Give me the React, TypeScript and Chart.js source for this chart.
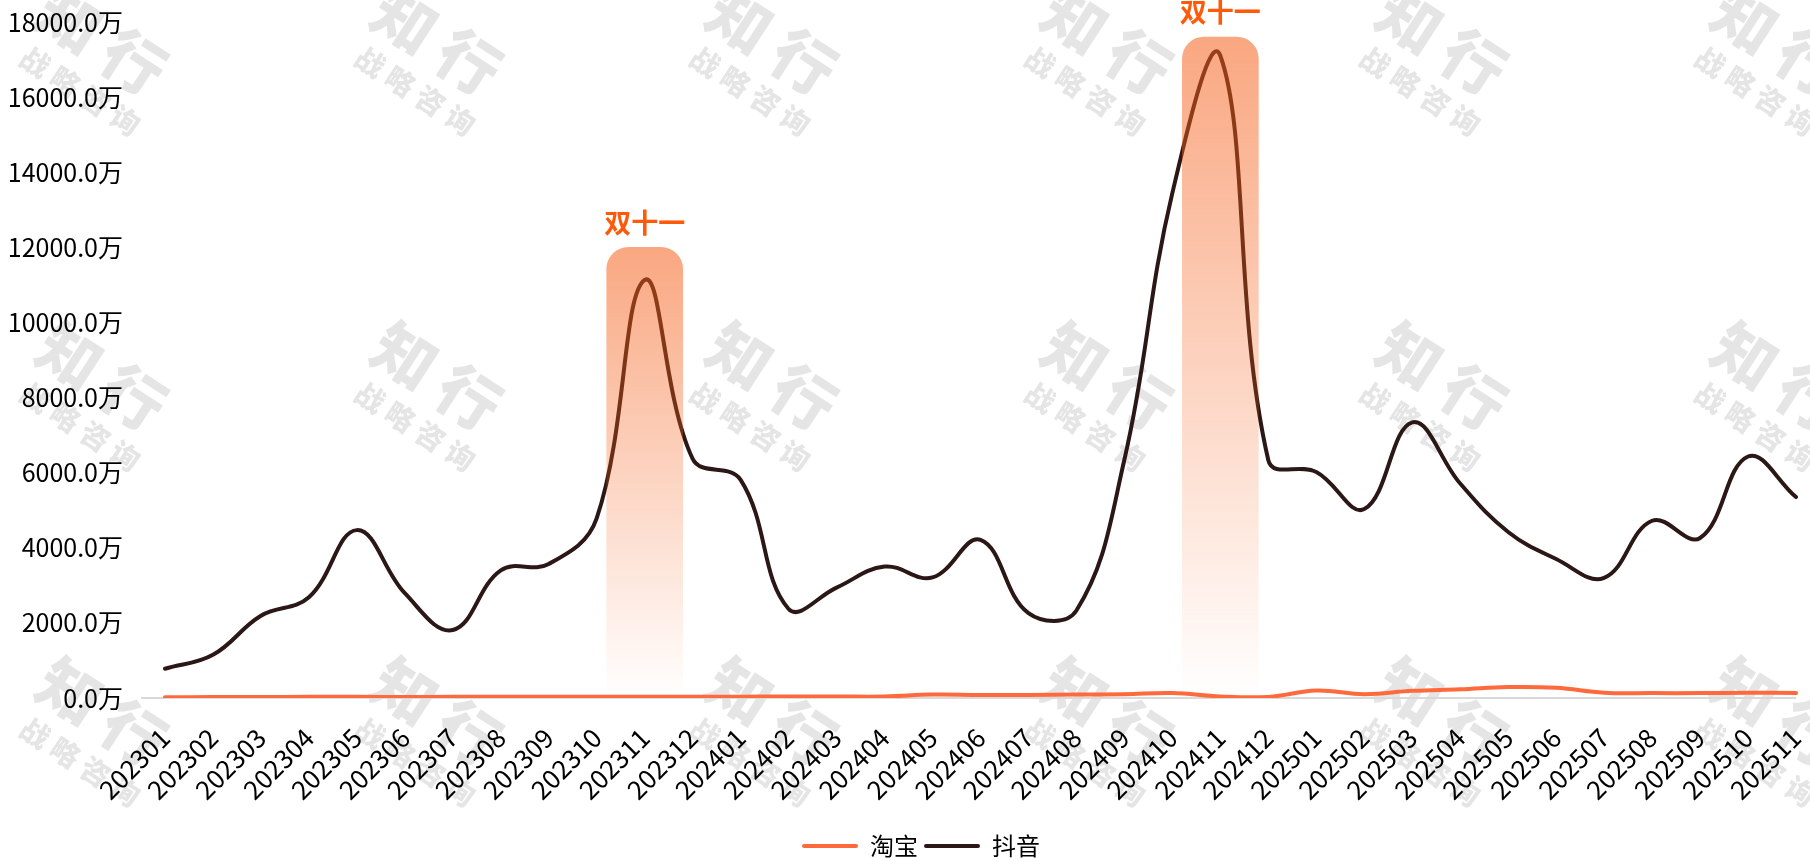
import React, { useEffect, useRef } from 'react';
import { Chart, registerables } from 'chart.js';

Chart.register(...registerables);

const FONT = '"Noto Sans CJK SC", "Noto Sans", sans-serif';

const categories = [
  '202301', '202302', '202303', '202304', '202305', '202306', '202307', '202308', '202309', '202310', '202311', '202312',
  '202401', '202402', '202403', '202404', '202405', '202406', '202407', '202408', '202409', '202410', '202411', '202412',
  '202501', '202502', '202503', '202504', '202505', '202506', '202507', '202508', '202509', '202510', '202511',
];

const taobaoValues = [
  20, 25, 25, 30, 30, 25, 30, 35, 35, 35, 35, 35,
  35, 40, 40, 40, 90, 80, 80, 90, 100, 130, 40, 30,
  200, 100, 190, 230, 290, 270, 140, 130, 130, 140, 130,
];

const douyinValues = [
  780, 1150, 2190, 2680, 4470, 2790, 1810, 3400, 3570, 4790, 11130, 6370,
  5810, 2370, 2940, 3500, 3210, 4210, 2260, 2330, 6350, 13450, 17100, 6330,
  6020, 5030, 7340, 5710, 4420, 3700, 3200, 4720, 4260, 6430, 5350,
];

const seriesNames = ['淘宝', '抖音'];
const seriesColors = ['#FF6A3D', '#2B1816'];

const highlightMonths = ['202311', '202411'];
const highlightTops = [12000, 17600];
const highlightLabels = ['双十一', '双十一'];

const watermarkMain = ['知', '行'];
const watermarkSub = ['战', '略', '咨', '询'];

const highlightData = categories.map((c) => {
  const k = highlightMonths.indexOf(c);
  return k >= 0 ? highlightTops[k] : null;
});

const watermarkPlugin = {
  id: 'watermark',
  afterLayout(chart: any) {
    // let the y-axis labels use the margin left of the scale box
    chart.scales.y.left = 0;
  },
  beforeDraw(chart: any) {
    const ctx = chart.ctx;
    ctx.save();
    ctx.fillStyle = 'rgba(0,0,0,0.1)';
    ctx.textAlign = 'center';
    ctx.textBaseline = 'middle';
    for (let r = 0; r < 3; r++) {
      for (let c = 0; c < 6; c++) {
        const x = 102 + c * 335;
        const y = 41 + r * 335.5;
        ctx.save();
        ctx.translate(x, y);
        ctx.rotate((33 * Math.PI) / 180);
        ctx.font = `900 62px ${FONT}`;
        watermarkMain.forEach((ch, i) => ctx.fillText(ch, (i - 0.5) * 76, 0));
        ctx.font = `900 29px ${FONT}`;
        watermarkSub.forEach((ch, i) => ctx.fillText(ch, 9 + (i - 1.5) * 35.7, 54));
        ctx.restore();
      }
    }
    ctx.restore();
  },
};

const festivalLabelPlugin = {
  id: 'festivalLabels',
  afterDatasetsDraw(chart: any) {
    const meta = chart.getDatasetMeta(2);
    const ctx = chart.ctx;
    ctx.save();
    ctx.font = `bold 27px ${FONT}`;
    ctx.fillStyle = '#FF5A0A';
    ctx.textAlign = 'center';
    ctx.textBaseline = 'middle';
    meta.data.forEach((el: any, i: number) => {
      const k = highlightMonths.indexOf(categories[i]);
      if (k < 0) return;
      ctx.fillText(highlightLabels[k], el.x, el.y - 25);
    });
    ctx.restore();
  },
};

export default function App() {
  const canvasRef = useRef<HTMLCanvasElement | null>(null);

  useEffect(() => {
    if (!canvasRef.current) return;
    const chart = new Chart(canvasRef.current, {
      type: 'line',
      data: {
        labels: categories,
        datasets: [
          {
            type: 'line',
            label: seriesNames[0],
            data: taobaoValues,
            borderColor: seriesColors[0],
            backgroundColor: seriesColors[0],
            borderWidth: 4,
            pointRadius: 0,
            tension: 0.4,
            fill: false,
            borderCapStyle: 'round',
            borderJoinStyle: 'round',
            order: 1,
          },
          {
            type: 'line',
            label: seriesNames[1],
            data: douyinValues,
            borderColor: seriesColors[1],
            backgroundColor: seriesColors[1],
            borderWidth: 4,
            pointRadius: 0,
            tension: 0.4,
            fill: false,
            borderCapStyle: 'round',
            borderJoinStyle: 'round',
            order: 1,
          },
          {
            type: 'bar',
            label: 'highlight',
            data: highlightData,
            barThickness: 76,
            grouped: false,
            borderRadius: 22,
            borderSkipped: 'start',
            order: 0,
            backgroundColor: (ctx: any) => {
              const chart = ctx.chart;
              const area = chart.chartArea;
              if (!area || ctx.raw == null) return 'rgba(0,0,0,0)';
              const top = chart.scales.y.getPixelForValue(ctx.raw);
              const g = chart.ctx.createLinearGradient(0, top, 0, area.bottom);
              g.addColorStop(0, 'rgba(245,95,25,0.55)');
              g.addColorStop(1, 'rgba(245,95,25,0)');
              return g;
            },
          } as any,
        ],
      },
      options: {
        responsive: true,
        maintainAspectRatio: false,
        animation: false,
        layout: { padding: { left: 46, right: 14, top: 22, bottom: -7 } },
        plugins: {
          legend: {
            position: 'bottom',
            labels: {
              boxWidth: 56,
              boxHeight: 4,
              padding: 6,
              color: '#000',
              font: { size: 24, family: FONT },
              useBorderRadius: true,
              borderRadius: 2,
              filter: (item: any) => item.datasetIndex !== 2,
              generateLabels: (chart: any) =>
                Chart.defaults.plugins.legend.labels
                  .generateLabels(chart)
                  .map((it: any) => ({ ...it, lineWidth: 0, fillStyle: it.strokeStyle })),
            },
          },
          tooltip: { enabled: false },
        },
        scales: {
          x: {
            type: 'category',
            offset: false,
            grid: { display: false, drawTicks: false },
            border: { display: false },
            ticks: {
              autoSkip: false,
              maxRotation: 45,
              minRotation: 45,
              padding: 24,
              color: '#000',
              font: { size: 26, family: FONT },
            },
            afterFit: (s: any) => {
              s.height = 130;
              s.paddingLeft = 0;
              s.paddingRight = 0;
            },
          },
          y: {
            min: 0,
            max: 18000,
            grid: {
              color: (ctx: any) => (ctx.tick && ctx.tick.value === 0 ? '#d9d9d9' : 'rgba(0,0,0,0)'),
              lineWidth: 2,
              tickLength: 24,
              drawTicks: true,
            },
            border: { display: false },
            ticks: {
              stepSize: 2000,
              padding: 18,
              color: '#000',
              font: { size: 25, family: FONT },
              callback: (v: any) => Number(v).toFixed(1) + '万',
            },
            afterFit: (s: any) => {
              s.width = 119;
              s.paddingTop = 0;
              s.paddingBottom = 0;
            },
          },
        },
      } as any,
      plugins: [watermarkPlugin, festivalLabelPlugin],
    } as any);
    return () => chart.destroy();
  }, []);

  return (
    <div style={{ position: 'fixed', left: 0, top: 0, width: 1810, height: 861, background: '#fff' }}>
      <canvas ref={canvasRef} style={{ width: '100%', height: '100%' }} />
    </div>
  );
}
